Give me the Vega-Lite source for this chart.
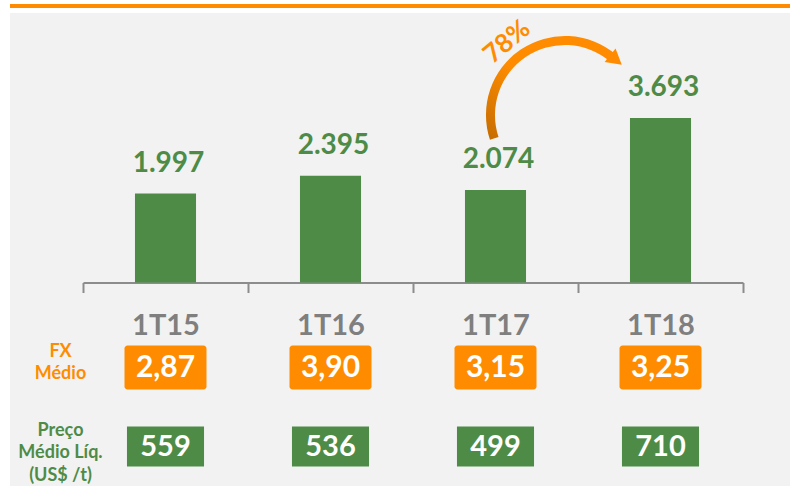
{
  "$schema": "https://vega.github.io/schema/vega-lite/v6.json",
  "width": 780,
  "height": 473,
  "autosize": {"type": "none"},
  "padding": {"left": 10, "top": 13, "right": 0, "bottom": 0},
  "background": "#ffffff",
  "config": {"view": {"fill": "#f2f2f2", "stroke": null}, "font": "Lato"},
  "layer": [
    {
      "data": {"values": [
        {"q": "1T15", "v": 1997, "lbl": "1.997"},
        {"q": "1T16", "v": 2395, "lbl": "2.395"},
        {"q": "1T17", "v": 2074, "lbl": "2.074"},
        {"q": "1T18", "v": 3693, "lbl": "3.693"}
      ]},
      "layer": [
        {
          "mark": {"type": "bar", "color": "#4e8b47", "width": {"band": 0.37}},
          "encoding": {
            "x": {"field": "q", "type": "nominal", "sort": null,
              "scale": {"range": [73, 733], "paddingInner": 0, "paddingOuter": 0},
              "axis": {"title": null, "orient": "bottom", "offset": -203.5, "labelAngle": 0,
                "domainColor": "#8c8c8c", "domainWidth": 2, "tickColor": "#8c8c8c", "tickWidth": 2,
                "tickSize": 10, "tickBand": "extent", "labelPadding": 19, "labelFont": "Lato",
                "labelFontSize": 29, "labelFontWeight": "bold", "labelColor": "#7f7f7f", "grid": false}},
            "y": {"field": "v", "type": "quantitative",
              "scale": {"domain": [-4569, 6050], "nice": false, "zero": false}, "axis": null}
          }
        },
        {
          "mark": {"type": "text", "color": "#4e8b47", "font": "Lato", "fontSize": 28, "fontWeight": "bold",
            "baseline": "alphabetic", "dy": -22, "dx": 3},
          "encoding": {
            "x": {"field": "q", "type": "nominal", "sort": null},
            "y": {"field": "v", "type": "quantitative"},
            "text": {"field": "lbl"}
          }
        },
        {
          "data": {"values": [{"from": "1T17", "to": "1T18"}]},
          "mark": {"type": "arc", "innerRadius": 70, "outerRadius": 79, "theta": -1.89, "theta2": 0.7,
            "color": {"gradient": "linear", "x1": 0, "y1": 1, "x2": 1, "y2": 0,
              "stops": [{"offset": 0, "color": "#c46c00"}, {"offset": 0.45, "color": "#ff8c00"}, {"offset": 1, "color": "#ff8c00"}]}},
          "encoding": {
            "x": {"datum": "1T17", "bandPosition": 0.921},
            "y": {"datum": 3760}
          }
        },
        {
          "data": {"values": [{"from": "1T17", "to": "1T18"}]},
          "mark": {"type": "point", "shape": "triangle-up", "filled": true, "size": 300, "angle": 129, "color": "#ff8c00", "opacity": 1},
          "encoding": {
            "x": {"datum": "1T18", "bandPosition": 0.23},
            "y": {"datum": 4995}
          }
        },
        {
          "data": {"values": [{"pct": "78%"}]},
          "mark": {"type": "text", "color": "#ff8c00", "font": "Lato", "fontSize": 26, "fontWeight": "bold",
            "angle": 320, "align": "center", "baseline": "middle"},
          "encoding": {
            "x": {"datum": "1T17", "bandPosition": 0.57},
            "y": {"datum": 5400},
            "text": {"field": "pct"}
          }
        },
        {
          "data": {"values": [{"line": "top"}]},
          "mark": {"type": "rule", "color": "#ff8c00", "strokeWidth": 4},
          "encoding": {"y": {"datum": 6205}}
        }
      ]
    },
    {
      "data": {"values": [
        {"q": "1T15", "row": "FX Médio", "val": "2,87"},
        {"q": "1T16", "row": "FX Médio", "val": "3,90"},
        {"q": "1T17", "row": "FX Médio", "val": "3,15"},
        {"q": "1T18", "row": "FX Médio", "val": "3,25"},
        {"q": "1T15", "row": "Preço Médio Líq. (US$ /t)", "val": "559"},
        {"q": "1T16", "row": "Preço Médio Líq. (US$ /t)", "val": "536"},
        {"q": "1T17", "row": "Preço Médio Líq. (US$ /t)", "val": "499"},
        {"q": "1T18", "row": "Preço Médio Líq. (US$ /t)", "val": "710"}
      ]},
      "encoding": {
        "x": {"field": "q", "type": "nominal", "sort": null},
        "y": {"field": "row", "type": "nominal", "sort": null,
          "scale": {"type": "band", "domain": ["FX Médio", "Preço Médio Líq. (US$ /t)"], "range": [315, 473], "paddingInner": 0, "paddingOuter": 0},
          "axis": {"title": null, "orient": "left", "offset": -50, "domain": false, "ticks": false, "grid": false,
            "labelAlign": "center", "labelBaseline": "middle", "labelPadding": 0, "labelLimit": 300, "labelOffset": -16,
            "labelFont": "Lato", "labelFontSize": 18, "labelFontWeight": "bold", "labelLineHeight": 22.5,
            "labelExpr": "datum.value == 'FX Médio' ? ['FX', 'Médio'] : ['Preço', 'Médio Líq.', '(US$ /t)']",
            "labelColor": {"condition": {"test": "datum.value == 'FX Médio'", "value": "#ff8c00"}, "value": "#4e8b47"}}}
      },
      "layer": [
        {
          "transform": [{"filter": "datum.row == 'FX Médio'"}],
          "mark": {"type": "rect", "color": "#ff8c00", "width": {"band": 0.497}, "height": {"band": 0.557}, "cornerRadius": 3}
        },
        {
          "transform": [{"filter": "datum.row != 'FX Médio'"}],
          "mark": {"type": "rect", "color": "#4e8b47", "width": {"band": 0.467}, "height": {"band": 0.506}}
        },
        {
          "transform": [{"filter": "datum.row == 'FX Médio'"}],
          "mark": {"type": "text", "color": "#ffffff", "font": "Lato", "fontSize": 30, "fontWeight": "bold", "baseline": "middle"},
          "encoding": {"text": {"field": "val"}}
        },
        {
          "transform": [{"filter": "datum.row != 'FX Médio'"}],
          "mark": {"type": "text", "color": "#ffffff", "font": "Lato", "fontSize": 29, "fontWeight": "bold", "baseline": "middle"},
          "encoding": {"text": {"field": "val"}}
        }
      ]
    }
  ],
  "resolve": {"scale": {"y": "independent"}}
}
